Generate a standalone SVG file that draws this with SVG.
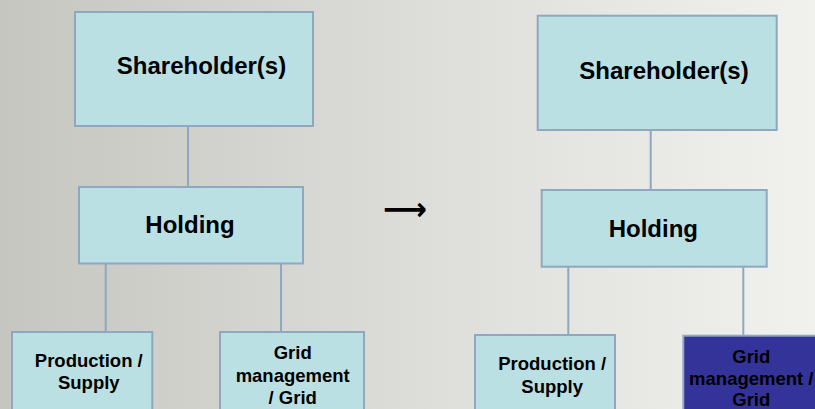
<svg xmlns="http://www.w3.org/2000/svg" width="815" height="409" viewBox="0 0 815 409">
<defs>
<linearGradient id="bg" x1="0" y1="0" x2="1" y2="0">
<stop offset="0" stop-color="#c6c6c1"/>
<stop offset="0.5" stop-color="#dcdcd8"/>
<stop offset="1" stop-color="#f1f1ed"/>
</linearGradient>
<style>
.box{fill:#bbe0e3;stroke:#8fa8bf;stroke-width:2}
.dark{fill:#333399;stroke:#8fa8bf;stroke-width:2}
.line{stroke:#8fa8bf;stroke-width:2;fill:none}
.big{font-family:"Liberation Sans",Arial,sans-serif;font-weight:bold;font-size:24px;fill:#000;text-anchor:middle}
.small{font-family:"Liberation Sans",Arial,sans-serif;font-weight:bold;font-size:18.5px;fill:#000;text-anchor:middle}
</style>
</defs>
<rect x="0" y="0" width="815" height="409" fill="url(#bg)"/>
<g id="connectors">
<line class="line" x1="188" y1="126" x2="188" y2="187"/>
<line class="line" x1="105.7" y1="263.5" x2="105.7" y2="332"/>
<line class="line" x1="281" y1="263.5" x2="281" y2="332"/>
<line class="line" x1="650.7" y1="130" x2="650.7" y2="190"/>
<line class="line" x1="568.3" y1="266.7" x2="568.3" y2="335"/>
<line class="line" x1="743.3" y1="266.7" x2="743.3" y2="335.7"/>
</g>
<g id="left-shareholders">
<rect class="box" x="75" y="12" width="238" height="114"/>
<text class="big" x="201.5" y="74">Shareholder(s)</text>
</g>
<g id="left-holding">
<rect class="box" x="79" y="187" width="224" height="76.5"/>
<text class="big" x="190" y="233">Holding</text>
</g>
<g id="left-production">
<rect class="box" x="12" y="332" width="140.3" height="90"/>
<text class="small" x="88.8" y="366.7">Production /</text>
<text class="small" x="88.8" y="389.3">Supply</text>
</g>
<g id="left-grid">
<rect class="box" x="220" y="332" width="144" height="90"/>
<text class="small" x="292.7" y="359.3">Grid</text>
<text class="small" x="292.7" y="382.3">management</text>
<text class="small" x="292.7" y="404">/ Grid</text>
</g>
<g id="arrow">
<text x="383" y="220" font-family="DejaVu Sans,sans-serif" font-weight="bold" font-size="32" textLength="44" lengthAdjust="spacingAndGlyphs" fill="#000">⟶</text>
</g>
<g id="right-shareholders">
<rect class="box" x="537.7" y="15.7" width="239" height="114.3"/>
<text class="big" x="664" y="78.7">Shareholder(s)</text>
</g>
<g id="right-holding">
<rect class="box" x="541.7" y="190" width="225" height="76.7"/>
<text class="big" x="653.3" y="237.3">Holding</text>
</g>
<g id="right-production">
<rect class="box" x="475" y="335" width="140" height="90"/>
<text class="small" x="552.2" y="370">Production /</text>
<text class="small" x="552.2" y="392.7">Supply</text>
</g>
<g id="right-grid">
<rect class="dark" x="683.3" y="335.7" width="145" height="90"/>
<text class="small" x="751.3" y="363.3">Grid</text>
<text class="small" x="751.3" y="385">management /</text>
<text class="small" x="751.3" y="406">Grid</text>
</g>
</svg>
